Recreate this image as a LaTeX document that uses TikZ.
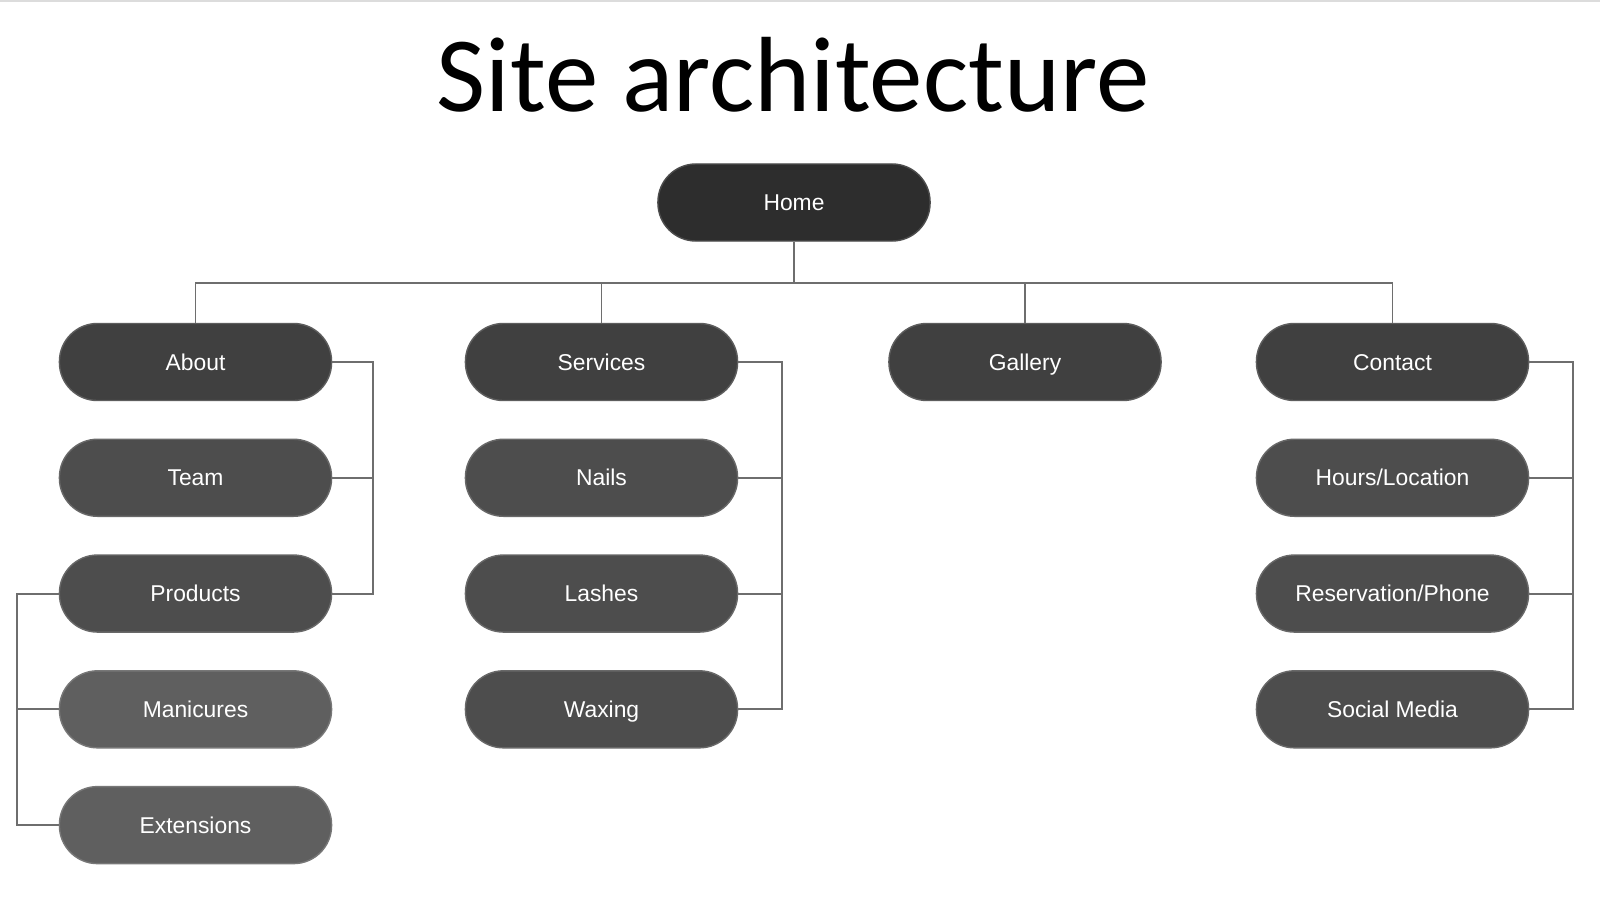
\documentclass[tikz,border=0pt]{standalone}
\usepackage{fontspec}
\setmainfont{Liberation Sans}
\newfontfamily\titlefont{Carlito}
\usetikzlibrary{positioning}
\definecolor{homegray}{HTML}{2D2D2D}
\definecolor{topgray}{HTML}{404040}
\definecolor{subgray}{HTML}{4D4D4D}
\definecolor{leafgray}{HTML}{5F5F5F}
\definecolor{linkgray}{HTML}{6E6E6E}
\definecolor{rulegray}{HTML}{DCDCDC}
\tikzset{%
   pill/.style={rectangle, rounded corners=3.8mm, minimum width=2.72cm, minimum height=0.77cm,
     inner sep=0pt, fill=#1, draw=#1!85!white, line width=0.4pt, text=white,
     text height=4.65pt, text depth=0pt, font=\fontsize{6.5}{8}\selectfont},
   link/.style={draw=linkgray, line width=0.55pt},
}

\begin{document}
\begin{tikzpicture}[x=0.01cm, y=-0.01cm, node distance=0.373cm]
   \useasboundingbox (0,0) rectangle (1600,900);
   \fill[white] (0,0) rectangle (1600,900);
   \draw[rulegray, line width=0.6pt] (0,1) -- (1600,1);
   \node[anchor=base, font=\titlefont\fontsize{30.4}{32}\selectfont] (title) at (793,111) {Site architecture};
   % top levels
   \node[pill=homegray] (home) at (794,202.5) {Home};
   \node[pill=topgray] (about) at (195.5,362) {About};
   \node[pill=topgray] (services) at (601.5,362) {Services};
   \node[pill=topgray] (gallery) at (1025,362) {Gallery};
   \node[pill=topgray] (contact) at (1392.5,362) {Contact};
   % about column
   \node[pill=subgray, below=of about] (team) {Team};
   \node[pill=subgray, below=of team] (products) {Products};
   \node[pill=leafgray, below=of products] (manicures) {Manicures};
   \node[pill=leafgray, below=of manicures] (extensions) {Extensions};
   % services column
   \node[pill=subgray, below=of services] (nails) {Nails};
   \node[pill=subgray, below=of nails] (lashes) {Lashes};
   \node[pill=subgray, below=of lashes] (waxing) {Waxing};
   % contact column
   \node[pill=subgray, below=of contact] (hours) {Hours/Location};
   \node[pill=subgray, below=of hours] (reservation) {Reservation/Phone};
   \node[pill=subgray, below=of reservation] (social) {Social Media};
   % links
   \draw[link] (home.south) -- ++(0,41) coordinate (bus);
   \foreach \n in {about,services,gallery,contact}
      \draw[link] (bus) -| (\n.north);
   \draw[link] (about.east) -- ++(41,0) coordinate (aboutbar) |- (products.east);
   \draw[link] (team.east) -- (team.east -| aboutbar);
   \draw[link] (products.west) -- ++(-42,0) coordinate (prodbar) |- (extensions.west);
   \draw[link] (manicures.west) -- (manicures.west -| prodbar);
   \draw[link] (services.east) -- ++(44,0) coordinate (servbar) |- (waxing.east);
   \foreach \n in {nails,lashes}
      \draw[link] (\n.east) -- (\n.east -| servbar);
   \draw[link] (contact.east) -- ++(44,0) coordinate (contbar) |- (social.east);
   \foreach \n in {hours,reservation}
      \draw[link] (\n.east) -- (\n.east -| contbar);
\end{tikzpicture}
\end{document}
